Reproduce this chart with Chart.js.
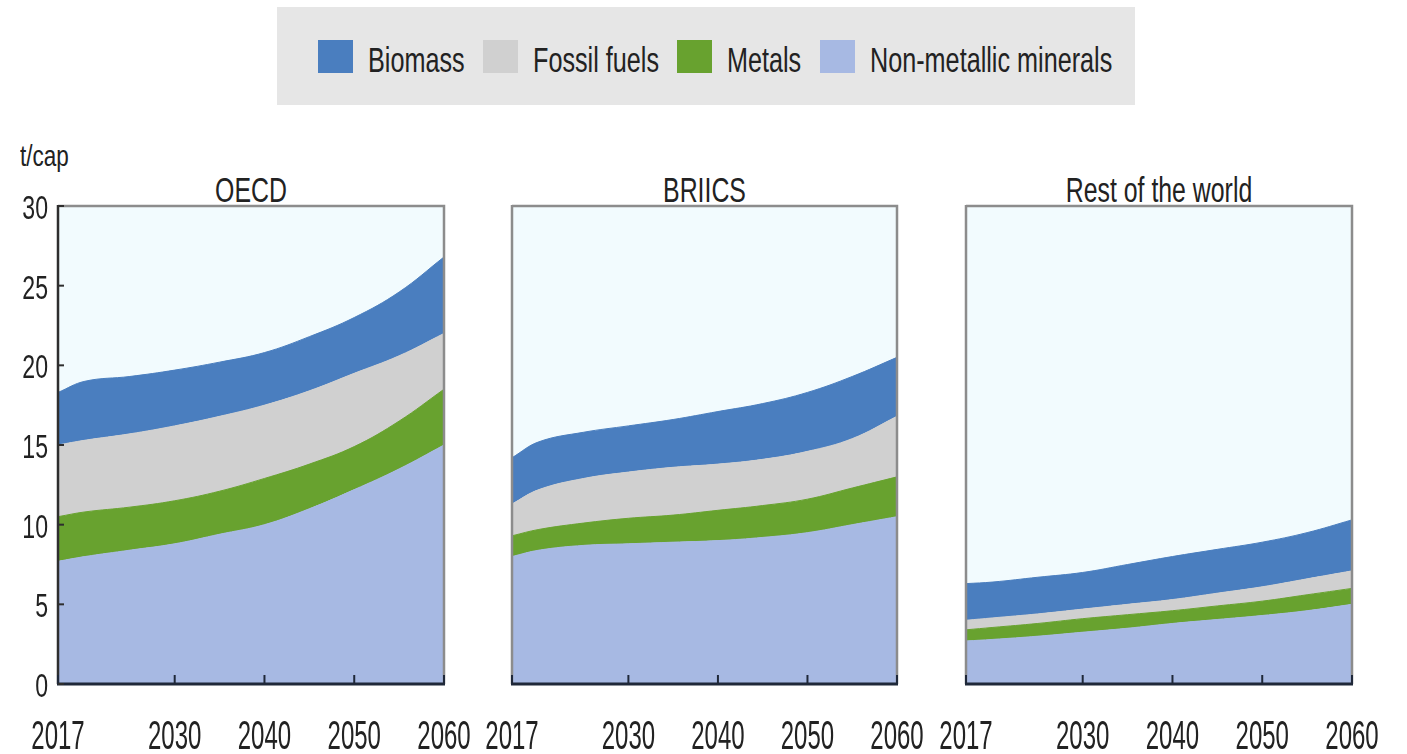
<!DOCTYPE html>
<html>
<head>
<meta charset="utf-8">
<script src="https://cdn.jsdelivr.net/npm/chart.js@4.4.0/dist/chart.umd.min.js"></script>
<style>
  html, body { margin: 0; padding: 0; background: #ffffff; }
  body {
    width: 1407px; height: 754px; position: relative; overflow: hidden;
    font-family: 'Liberation Sans', Arial, sans-serif; color: #222222;
  }
  canvas { position: absolute; left: 0; top: 0; }
  #legend { position: absolute; left: 277px; top: 7px; width: 858px; height: 98px; background: #e6e6e6; }
  .sw { position: absolute; top: 33px; width: 35px; height: 33px; }
  .lt {
    position: absolute; top: 33px; font-size: 35px; line-height: normal; white-space: nowrap;
    transform: scaleX(0.72); transform-origin: 0 0;
  }
  .title {
    position: absolute; top: 170px; font-size: 35px; line-height: normal; white-space: nowrap;
    text-align: center; transform: scaleX(0.71); transform-origin: 50% 0;
  }
  #unit {
    position: absolute; left: 20px; top: 139px; font-size: 30px; line-height: normal;
    transform: scaleX(0.75); transform-origin: 0 0;
  }
</style>
</head>
<body>
<div id="legend"></div>
<div id="unit">t/cap</div>
<div class="title" style="left:58px;width:386px;">OECD</div>
<div class="title" style="left:512px;width:385px;">BRIICS</div>
<div class="title" style="left:966px;width:386px;">Rest of the world</div>
<canvas id="p1" width="1407" height="754"></canvas>
<canvas id="p2" width="1407" height="754"></canvas>
<canvas id="p3" width="1407" height="754"></canvas>
<script>
// Material consumption per capita (t/cap), by region and material group
const YEARS = [2017, 2020, 2025, 2030, 2035, 2040, 2045, 2050, 2055, 2060];
const X_TICKS = [2017, 2030, 2040, 2050, 2060];
const Y_TICKS = [0, 5, 10, 15, 20, 25, 30];

const MATERIALS = ['Biomass', 'Fossil fuels', 'Metals', 'Non-metallic minerals'];
const COLORS = ['#4a7ebf', '#d0d0d0', '#68a22f', '#a7b9e3'];

const OECD_NONMETALLIC = [7.7, 8.0, 8.4, 8.8, 9.4, 10.0, 11.0, 12.2, 13.5, 15.0];
const OECD_METALS      = [2.8, 2.8, 2.7, 2.7, 2.7, 2.9, 2.8, 2.7, 3.0, 3.5];
const OECD_FOSSIL      = [4.5, 4.5, 4.6, 4.7, 4.7, 4.6, 4.6, 4.6, 4.1, 3.5];
const OECD_BIOMASS     = [3.3, 3.7, 3.6, 3.5, 3.4, 3.3, 3.4, 3.5, 4.0, 4.8];

const BRIICS_NONMETALLIC = [8.0, 8.4, 8.7, 8.8, 8.9, 9.0, 9.2, 9.5, 10.0, 10.5];
const BRIICS_METALS      = [1.3, 1.3, 1.4, 1.6, 1.7, 1.9, 2.0, 2.1, 2.3, 2.5];
const BRIICS_FOSSIL      = [2.0, 2.5, 2.8, 2.9, 3.0, 2.9, 2.9, 3.0, 3.1, 3.8];
const BRIICS_BIOMASS     = [2.9, 3.0, 2.9, 2.9, 3.0, 3.3, 3.5, 3.7, 3.9, 3.7];

const ROW_NONMETALLIC = [2.7, 2.8, 3.0, 3.25, 3.5, 3.8, 4.05, 4.3, 4.6, 5.0];
const ROW_METALS      = [0.7, 0.75, 0.8, 0.85, 0.85, 0.8, 0.85, 0.9, 1.0, 1.0];
const ROW_FOSSIL      = [0.6, 0.6, 0.6, 0.6, 0.65, 0.7, 0.8, 0.9, 1.0, 1.1];
const ROW_BIOMASS     = [2.3, 2.25, 2.3, 2.3, 2.5, 2.7, 2.75, 2.8, 2.9, 3.2];

const FONT = "'Liberation Sans', Arial, sans-serif";
const TEXT_COLOR = '#222222';
const PLOT_BG = '#f2fbfe';
const FRAME_GREY = '#8c8c8c';
const AXIS_DARK = '#1f2839';
const PLOT_TOP = 206, PLOT_BOTTOM = 684;

// Legend shared by the three panels
const legend = document.getElementById('legend');
const SWATCH_X = [41, 206, 400, 543];
MATERIALS.forEach((name, i) => {
  const sw = document.createElement('div');
  sw.className = 'sw';
  sw.style.left = SWATCH_X[i] + 'px';
  sw.style.background = COLORS[i];
  const txt = document.createElement('div');
  txt.className = 'lt';
  txt.style.left = (SWATCH_X[i] + 50) + 'px';
  txt.textContent = name;
  legend.appendChild(sw);
  legend.appendChild(txt);
});

// Condensed tick label drawn at (x, y)
function narrowText(c, text, x, y, size, sx, align) {
  c.save();
  c.translate(x, y);
  c.scale(sx, 1);
  c.font = size + 'px ' + FONT;
  c.fillStyle = TEXT_COLOR;
  c.textAlign = align;
  c.textBaseline = 'alphabetic';
  c.fillText(text, 0, 0);
  c.restore();
}

// Plot background, frame, inward tick marks and tick labels
const framePlugin = {
  id: 'panelFrame',
  beforeDatasetsDraw(chart) {
    const a = chart.chartArea, c = chart.ctx;
    c.save();
    c.fillStyle = PLOT_BG;
    c.fillRect(a.left, a.top, a.right - a.left, a.bottom - a.top);
    c.restore();
  },
  afterDatasetsDraw(chart, args, opts) {
    const a = chart.chartArea, c = chart.ctx;
    const xs = chart.scales.x, ys = chart.scales.y;
    c.save();
    c.lineCap = 'butt';
    c.strokeStyle = FRAME_GREY;
    c.lineWidth = 2.5;
    c.beginPath();
    c.moveTo(a.left, a.top);
    c.lineTo(a.right, a.top);
    c.lineTo(a.right, a.bottom);
    c.stroke();
    c.strokeStyle = opts.valueAxis ? '#2e2e2e' : FRAME_GREY;
    c.lineWidth = 2.5;
    c.beginPath();
    c.moveTo(a.left, a.top - 1);
    c.lineTo(a.left, a.bottom);
    c.stroke();
    c.strokeStyle = AXIS_DARK;
    c.lineWidth = 3;
    c.beginPath();
    c.moveTo(a.left - 1, a.bottom);
    c.lineTo(a.right + 1, a.bottom);
    c.stroke();
    c.lineWidth = 2;
    X_TICKS.forEach(v => {
      const px = xs.getPixelForValue(v);
      c.beginPath();
      c.moveTo(px, a.bottom);
      c.lineTo(px, a.bottom - 9);
      c.stroke();
    });
    if (opts.valueAxis) {
      c.strokeStyle = '#2e2e2e';
      Y_TICKS.forEach(v => {
        const py = ys.getPixelForValue(v);
        c.beginPath();
        c.moveTo(a.left, py);
        c.lineTo(a.left + 6, py);
        c.stroke();
      });
    }
    c.restore();
  },
  afterDraw(chart, args, opts) {
    const c = chart.ctx, xs = chart.scales.x, ys = chart.scales.y;
    X_TICKS.forEach(v => narrowText(c, String(v), xs.getPixelForValue(v), 749, 40, 0.6, 'center'));
    if (opts.valueAxis) {
      Y_TICKS.forEach(v => narrowText(c, String(v), 48, ys.getPixelForValue(v) + 13, 33, 0.7, 'right'));
    }
  }
};

function makePanel(canvasId, values, plotLeft, plotRight, valueAxis) {
  const datasets = [];
  // stacked from the bottom: non-metallic, metals, fossil fuels, biomass
  [3, 2, 1, 0].forEach((mi, k) => {
    const arr = values[mi];
    datasets.push({
      label: MATERIALS[mi],
      data: YEARS.map((yr, j) => ({ x: yr, y: arr[j] })),
      backgroundColor: COLORS[mi],
      borderColor: COLORS[mi],
      borderWidth: 1,
      pointRadius: 0,
      fill: k === 0 ? 'origin' : '-1',
      tension: 0.4
    });
  });
  const yScale = {
    stacked: true, min: 0, max: 30,
    display: valueAxis,
    grid: { display: false, drawTicks: false },
    border: { display: false },
    ticks: { display: false, stepSize: 5 }
  };
  if (valueAxis) yScale.afterFit = s => { s.width = plotLeft; };
  return new Chart(document.getElementById(canvasId), {
    type: 'line',
    data: { datasets },
    options: {
      responsive: false,
      animation: false,
      devicePixelRatio: 1,
      layout: { padding: { left: valueAxis ? 0 : plotLeft, right: 1407 - plotRight, top: PLOT_TOP, bottom: 0 } },
      plugins: {
        legend: { display: false },
        tooltip: { enabled: false },
        panelFrame: { valueAxis }
      },
      scales: {
        x: {
          type: 'linear', min: 2017, max: 2060,
          grid: { display: false, drawTicks: false },
          border: { display: false },
          afterBuildTicks: s => { s.ticks = X_TICKS.map(v => ({ value: v })); },
          afterFit: s => { s.height = 754 - PLOT_BOTTOM; },
          ticks: { display: false }
        },
        y: yScale
      }
    },
    plugins: [framePlugin]
  });
}

// values listed in MATERIALS order
makePanel('p1', [OECD_BIOMASS, OECD_FOSSIL, OECD_METALS, OECD_NONMETALLIC], 58, 444, true);
makePanel('p2', [BRIICS_BIOMASS, BRIICS_FOSSIL, BRIICS_METALS, BRIICS_NONMETALLIC], 512, 897, false);
makePanel('p3', [ROW_BIOMASS, ROW_FOSSIL, ROW_METALS, ROW_NONMETALLIC], 966, 1352, false);
</script>
</body>
</html>
